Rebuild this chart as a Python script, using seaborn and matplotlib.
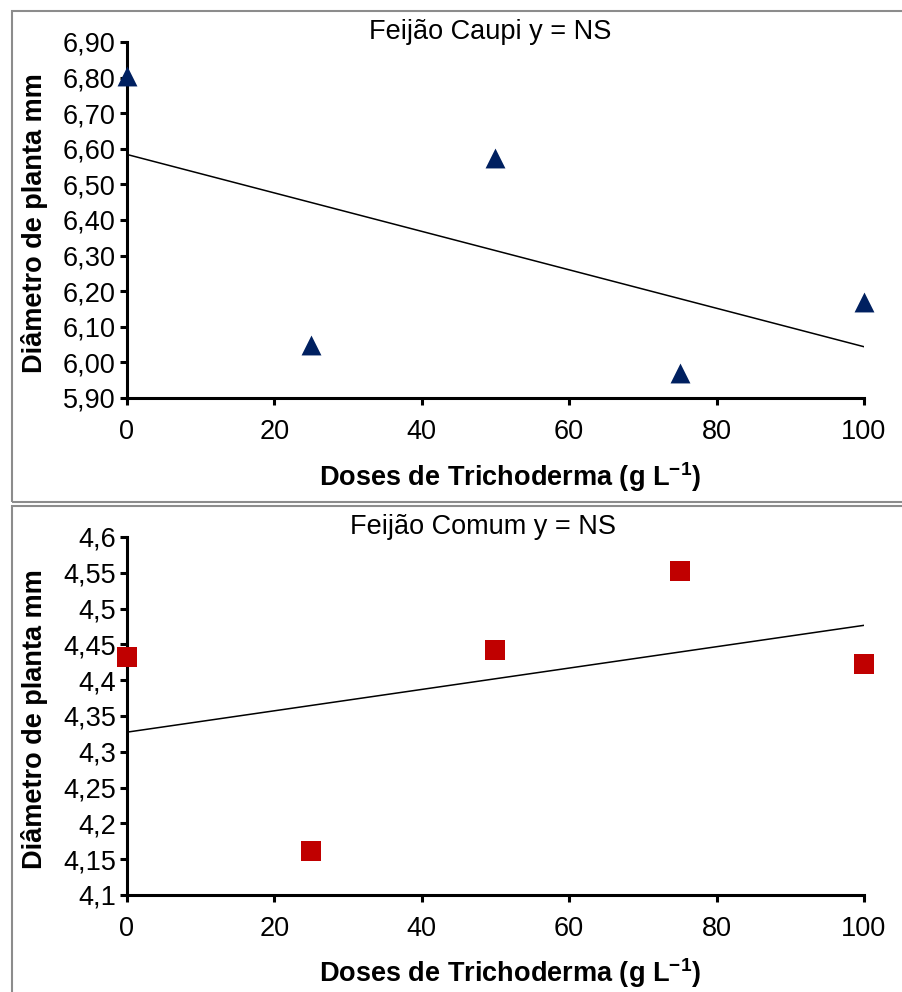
import matplotlib
matplotlib.use("Agg")
import matplotlib.pyplot as plt
from matplotlib.patches import Rectangle
import seaborn as sns
import pandas as pd

# ---- data ----
doses = [0, 25, 50, 75, 100]
caupi = [6.805, 6.05, 6.575, 5.97, 6.17]
comum = [4.432, 4.161, 4.442, 4.552, 4.423]

x_ticks = [0, 20, 40, 60, 80, 100]
caupi_yticks = [5.90, 6.00, 6.10, 6.20, 6.30, 6.40, 6.50, 6.60, 6.70, 6.80, 6.90]
caupi_ylabels = ["5,90", "6,00", "6,10", "6,20", "6,30", "6,40", "6,50", "6,60", "6,70", "6,80", "6,90"]
comum_yticks = [4.10, 4.15, 4.20, 4.25, 4.30, 4.35, 4.40, 4.45, 4.50, 4.55, 4.60]
comum_ylabels = ["4,1", "4,15", "4,2", "4,25", "4,3", "4,35", "4,4", "4,45", "4,5", "4,55", "4,6"]

title_caupi = "Feijão Caupi y = NS"
title_comum = "Feijão Comum y = NS"
ylabel = "Diâmetro de planta mm"
xlabel = r"Doses de Trichoderma (g L$^{\mathbf{-1}}$)"

df_caupi = pd.DataFrame({"dose": doses, "diam": caupi})
df_comum = pd.DataFrame({"dose": doses, "diam": comum})

sns.set_theme(style="white")
plt.rcParams["font.family"] = ["Liberation Sans", "DejaVu Sans"]
plt.rcParams["mathtext.fontset"] = "custom"
plt.rcParams["mathtext.rm"] = "Liberation Sans"
plt.rcParams["mathtext.bf"] = "Liberation Sans:bold"

FS = 19.5
fig = plt.figure(figsize=(9.03, 9.92), dpi=100)

# panel borders
fig.patches.append(Rectangle((0.0133, 0.4940), 1.0, 0.9889 - 0.4940, transform=fig.transFigure,
                             fill=False, edgecolor="#8c8c8c", lw=1.5, zorder=0))
fig.patches.append(Rectangle((0.0133, -0.02), 1.0, 0.4899 + 0.02, transform=fig.transFigure,
                             fill=False, edgecolor="#8c8c8c", lw=1.5, zorder=0))

ax1 = fig.add_axes([0.1406, 0.5988, 0.8162, 0.3589])
ax2 = fig.add_axes([0.1406, 0.0978, 0.8162, 0.3609])

specs = [
    (ax1, df_caupi, "^", "#002060", caupi_yticks, caupi_ylabels, title_caupi, 490 / 903, 1 - 32 / 992),
    (ax2, df_comum, "s", "#C00000", comum_yticks, comum_ylabels, title_comum, 483 / 903, 1 - 527 / 992),
]

for ax, df, mk, col, yt, yl, title, tx, ty in specs:
    sns.regplot(data=df, x="dose", y="diam", ax=ax, ci=None, marker=mk, truncate=True,
                scatter_kws=dict(s=205, color=col, alpha=1, linewidths=0, clip_on=False, zorder=4),
                line_kws=dict(color="black", lw=1.1, zorder=3))
    ax.set_xlim(0, 100)
    ax.set_ylim(yt[0], yt[-1])
    ax.set_xticks(x_ticks)
    ax.set_xticklabels([str(v) for v in x_ticks])
    ax.set_yticks(yt)
    ax.set_yticklabels(yl)
    for s in ["top", "right"]:
        ax.spines[s].set_visible(False)
    for s in ["left", "bottom"]:
        ax.spines[s].set_linewidth(2.2)
        ax.spines[s].set_color("black")
    ax.tick_params(axis="both", which="major", direction="out", length=5, width=2.2,
                   colors="black", labelsize=FS, left=True, bottom=True)
    ax.tick_params(axis="x", pad=10)
    ax.tick_params(axis="y", pad=3)
    ax.set_xlabel(xlabel, fontsize=FS, fontweight="bold", color="black")
    ax.set_ylabel(ylabel, fontsize=FS, fontweight="bold", color="black")
    ax.set_facecolor("none")
    fig.text(tx, ty, title, fontsize=FS, ha="center", va="center", color="black")

ax1.xaxis.set_label_coords(0.52, -0.175)
ax2.xaxis.set_label_coords(0.52, -0.172)
ax1.yaxis.set_label_coords(-0.107, 0.49)
ax2.yaxis.set_label_coords(-0.107, 0.49)

fig.savefig("out.png", dpi=100)
